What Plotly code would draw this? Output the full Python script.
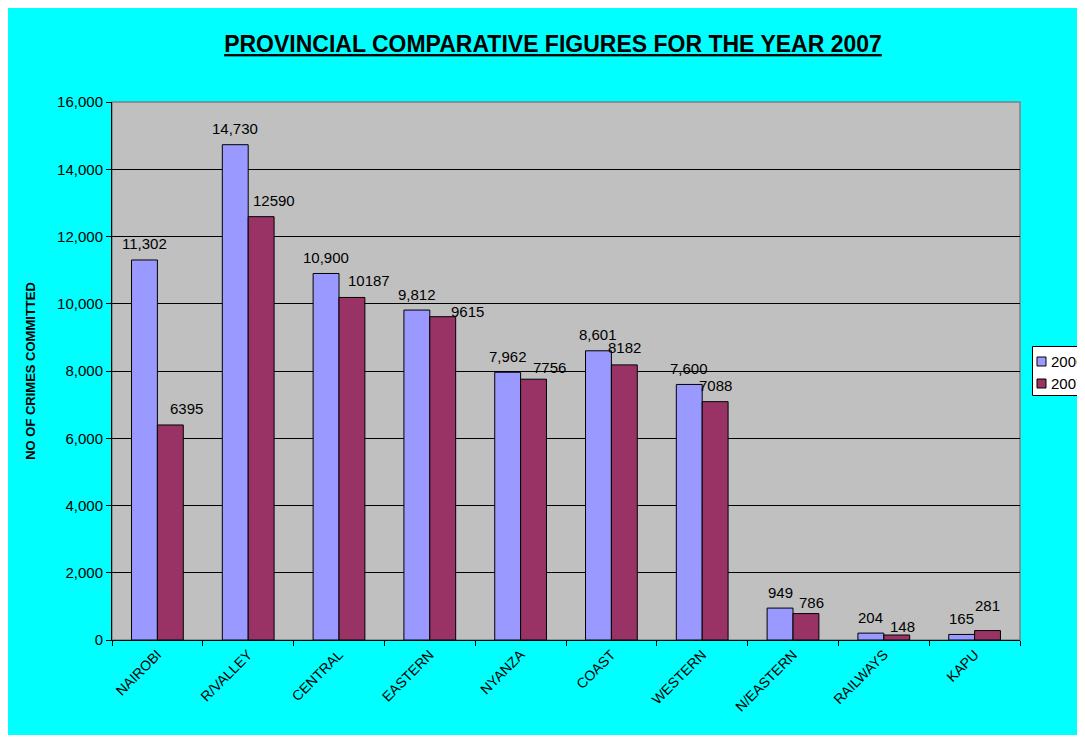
import plotly.graph_objects as go

categories = ["NAIROBI", "R/VALLEY", "CENTRAL", "EASTERN", "NYANZA", "COAST",
              "WESTERN", "N/EASTERN", "RAILWAYS", "KAPU"]
series_names = ["2006", "2007"]
values_2006 = [11302, 14730, 10900, 9812, 7962, 8601, 7600, 949, 204, 165]
values_2007 = [6395, 12590, 10187, 9615, 7756, 8182, 7088, 786, 148, 281]
y_ticks = [0, 2000, 4000, 6000, 8000, 10000, 12000, 14000, 16000]

# label nudges (pixels) as placed in the original chart: (dx from bar centre, height above bar top)
nudge_2006 = [(0, 16)] * 10
nudge_2007 = [(16, 16), (13, 16), (17, 17), (25, 5), (16, 12), (0, 17), (0, 16), (6, 11), (6, 9), (0, 25)]

colors = ["#9999FF", "#993366"]

# page body adds an 8px offset; figure coordinates are relative to it
OFF = 8
W, H = 1100, 743 - 2 * OFF
ML, MT = 112 - OFF, 102 - OFF
MR = W - (1020 - OFF)
MB = H - (640 - OFF)
PW, PH = W - ML - MR, H - MT - MB
BARGAP = 0.43

def px(x):
    return (x - OFF - ML) / PW

def py(y):
    return (H - MB - (y - OFF)) / PH

FONT = "Arial, Liberation Sans"
label_font = dict(family=FONT, size=15, color="black")

fig = go.Figure()
for name, vals, col in zip(series_names, [values_2006, values_2007], colors):
    fig.add_trace(go.Bar(
        name=name, x=categories, y=vals,
        marker=dict(color=col, line=dict(color="black", width=1)),
        showlegend=False,
    ))

half = (1 - BARGAP) * PW / len(categories) / 4
annotations = []
for vals, nudges, sign, fmt in [(values_2006, nudge_2006, -1, "{:,}"), (values_2007, nudge_2007, 1, "{}")]:
    for cat, v, (dx, dy) in zip(categories, vals, nudges):
        annotations.append(dict(
            x=cat, y=v, xref="x", yref="y", text=fmt.format(v), showarrow=False,
            xanchor="center", yanchor="middle", xshift=sign * half + dx, yshift=dy,
            font=label_font,
        ))

# legend (box, swatches, labels) placed as in the original
legend_rows = [361.5, 383.5]
shapes = [
    dict(type="rect", xref="paper", yref="paper", x0=0, x1=1, y0=0, y1=1,
         line=dict(color="#808080", width=1.5), layer="below"),
    dict(type="rect", xref="paper", yref="paper", x0=px(1032.5), x1=px(1120), y0=py(395.5), y1=py(346.5),
         fillcolor="white", line=dict(color="black", width=1), layer="below"),
]
for name, col, ry in zip(series_names, colors, legend_rows):
    shapes.append(dict(type="rect", xref="paper", yref="paper", x0=px(1037), x1=px(1046),
                       y0=py(ry + 4.5), y1=py(ry - 4.5), fillcolor=col,
                       line=dict(color="black", width=1)))
    annotations.append(dict(x=px(1048.5), y=py(ry), xref="paper", yref="paper", text=name,
                            showarrow=False, xanchor="left", yanchor="middle",
                            font=dict(family=FONT, size=15, color="black")))

fig.update_layout(
    width=W, height=H,
    margin=dict(l=ML, r=MR, t=MT, b=MB),
    paper_bgcolor="#00FFFF",
    plot_bgcolor="#C0C0C0",
    barmode="group",
    bargap=BARGAP,
    bargroupgap=0,
    title=dict(
        text="<b><u>PROVINCIAL COMPARATIVE FIGURES FOR THE YEAR 2007</u></b>",
        xref="paper", x=px(553), xanchor="center", y=1 - (44 - OFF) / H, yanchor="middle",
        font=dict(family="Liberation Sans Narrow, Arial Narrow, Arial", size=23, color="black"),
    ),
    font=dict(family=FONT, color="black"),
    xaxis=dict(
        tickangle=-45, tickfont=dict(size=14), ticks="outside", tickson="boundaries",
        ticklen=5, tickcolor="black", showline=True, linecolor="black", linewidth=1,
        showgrid=False,
    ),
    yaxis=dict(
        range=[0, 16000], tickvals=y_ticks, tickformat=",", tickfont=dict(size=15),
        ticks="outside", ticklen=5, tickcolor="black", showline=True, linecolor="black",
        linewidth=1, showgrid=True, gridcolor="black", gridwidth=1, zeroline=False,
        title=dict(text="<b>NO OF CRIMES COMMITTED</b>", font=dict(size=13), standoff=18),
    ),
    shapes=shapes,
    annotations=annotations,
    showlegend=False,
)

fig.write_html("out.html")
